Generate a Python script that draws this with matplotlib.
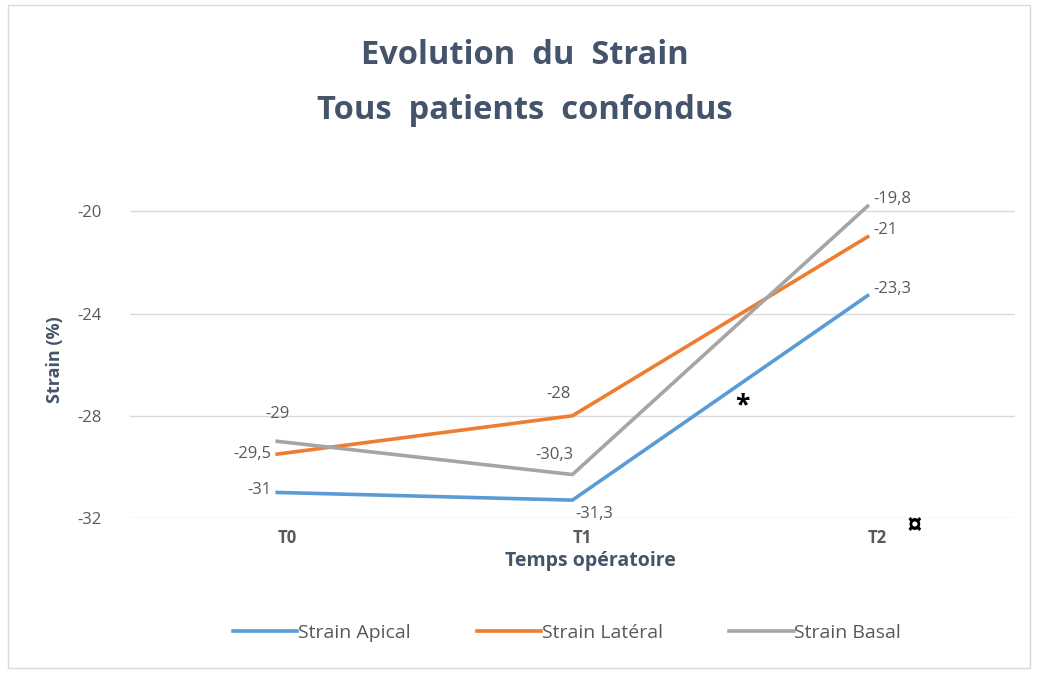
import matplotlib.pyplot as plt
from matplotlib.patches import Rectangle
from matplotlib.transforms import ScaledTranslation

plt.rcParams['font.family'] = ['Open Sans', 'DejaVu Sans']
plt.rcParams['axes.unicode_minus'] = False

temps = ['T0', 'T1', 'T2']
apical = [-31, -31.3, -23.3]
lateral = [-29.5, -28, -21]
basal = [-29, -30.3, -19.8]
y_ticks = [-20, -24, -28, -32]

blue = '#5B9BD5'
orange = '#ED7D31'
grey = '#A5A5A5'
txt = '#595959'
title_col = '#44546A'

fig = plt.figure(figsize=(10.37, 6.73), dpi=100)
fig.patches.append(Rectangle((8 / 1037, 5 / 673), 1022 / 1037, 663 / 673,
                             transform=fig.transFigure, fill=False,
                             ec='#D9D9D9', lw=1))

ax = fig.add_axes([0.125, 0.2303, 0.854, 0.471])
x = range(len(temps))
ax.plot(x, apical, color=blue, lw=2.6, label='Strain Apical', clip_on=False)
ax.plot(x, lateral, color=orange, lw=2.6, label='Strain Latéral', clip_on=False)
ax.plot(x, basal, color=grey, lw=2.6, label='Strain Basal', clip_on=False)

ax.set_xlim(-0.5, 2.5)
ax.set_ylim(-32, -19.6)
ax.set_yticks(y_ticks)
ax.set_xticks(list(x))
ax.set_xticklabels(temps, fontweight='bold')
ax.tick_params(length=0, labelsize=12, colors=txt)
ax.tick_params(axis='y', pad=20)
ax.tick_params(axis='x', pad=8)
shift = ScaledTranslation(10 / 100, 0, fig.dpi_scale_trans)
for t in ax.get_xticklabels():
    t.set_transform(t.get_transform() + shift)
ax.grid(axis='y', color='#D9D9D9', lw=1)
ax.set_axisbelow(True)
for s in ax.spines.values():
    s.set_visible(False)

ax.set_ylabel('Strain (%)', fontweight='bold', color=title_col, fontsize=13, labelpad=10)
ax.set_xlabel('Temps opératoire', fontweight='bold', color=title_col, fontsize=14, labelpad=3)
ax.xaxis.label.set_x(0.52)

def lab(xi, yi, s, dx, dy, ha='center', va='center'):
    ax.annotate(s, (xi, yi), xytext=(dx, dy), textcoords='offset points',
                ha=ha, va=va, fontsize=12, color=txt)

fmt = lambda v: ('%g' % v).replace('.', ',')
lab(0, apical[0], fmt(apical[0]), -4, 2, ha='right')
lab(0, lateral[0], fmt(lateral[0]), -4, 0, ha='right')
lab(0, basal[0], fmt(basal[0]), 0, 20)
lab(1, lateral[1], fmt(lateral[1]), -10, 16)
lab(1, basal[1], fmt(basal[1]), -13, 14)
lab(1, apical[1], fmt(apical[1]), 2, -10, ha='left')
for arr in (apical, lateral, basal):
    lab(2, arr[2], fmt(arr[2]), 4, 5, ha='left')

ax.text(1.575, -27.6, '*', fontsize=19, fontweight='bold', color='black', ha='center', va='center')
ax.annotate('¤', (2, -32), xytext=(34, -6), textcoords='offset points',
            fontsize=20, fontweight='bold', color='black', ha='center', va='center',
            annotation_clip=False)

fig.text(0.506, 0.917, 'Evolution  du  Strain', ha='center', va='center',
         fontsize=23.5, fontweight='bold', color=title_col)
fig.text(0.506, 0.836, 'Tous  patients  confondus', ha='center', va='center',
         fontsize=23.5, fontweight='bold', color=title_col)

fig.legend(loc='center', bbox_to_anchor=(0.547, 0.06), ncol=3, frameon=False,
           fontsize=14, labelcolor=txt, handlelength=3.3, handletextpad=0.05,
           columnspacing=3.4)

fig.savefig('out.png', dpi=100)
